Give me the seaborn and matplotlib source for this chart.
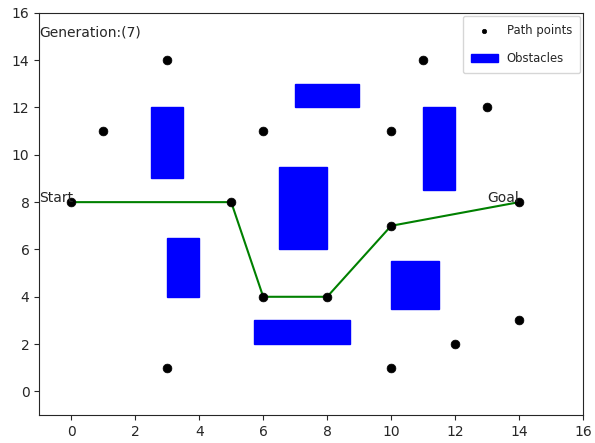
import numpy as np
import matplotlib
matplotlib.use('Agg')
import matplotlib.pyplot as plt
import seaborn as sns
from matplotlib.patches import Rectangle

sns.set_style('ticks')
plt.rcParams['font.family'] = ['DejaVu Sans']

# 路径点
point_x = [0, 1, 3, 3, 5, 6, 6, 8, 10, 10, 10, 11, 12, 13, 14, 14]
point_y = [8, 11, 14, 1, 8, 11, 4, 4, 11, 7, 1, 14, 2, 12, 8, 3]

# 最优路径
path_x = [0, 5, 6, 8, 10, 14]
path_y = [8, 8, 4, 4, 7, 8]

# 障碍物 (x, y, 宽, 高)
obs_x = [2.5, 3, 7, 6.5, 5.7, 10, 11]
obs_y = [9, 4, 12, 6, 2, 3.5, 8.5]
obs_w = [1, 1, 2, 1.5, 3, 1.5, 1]
obs_h = [3, 2.5, 1, 3.5, 1, 2, 3.5]

generation = 7

fig, ax = plt.subplots(figsize=(5.95, 4.43), dpi=100)
fig.subplots_adjust(left=0.066, right=0.98, top=0.971, bottom=0.063)

for i in range(len(obs_x)):
    ax.add_patch(Rectangle((obs_x[i], obs_y[i]), obs_w[i], obs_h[i],
                           color='blue', label='Obstacles' if i == 0 else None))

sns.lineplot(x=path_x, y=path_y, sort=False, color='green', lw=1.5, ax=ax)
sns.scatterplot(x=point_x, y=point_y, color='black', s=40, edgecolor='black',
                label='Path points', ax=ax, zorder=3)

ax.text(path_x[0] - 1, path_y[0], 'Start')
ax.text(path_x[-1] - 1, path_y[-1], 'Goal')
ax.text(-1, 15, 'Generation:(%d)' % generation)

ax.set_xlim(-1, 16)
ax.set_ylim(-1, 16)
ax.set_xticks(range(0, 17, 2))
ax.set_yticks(range(0, 17, 2))

handles, labels = ax.get_legend_handles_labels()
order = [labels.index('Path points'), labels.index('Obstacles')]
ax.legend([handles[i] for i in order], [labels[i] for i in order],
          loc='upper right', fontsize='small', markerscale=0.5,
          labelspacing=1.3, borderpad=0.7, handlelength=2.3,
          borderaxespad=0.25)

plt.savefig('out.png')
plt.close()
